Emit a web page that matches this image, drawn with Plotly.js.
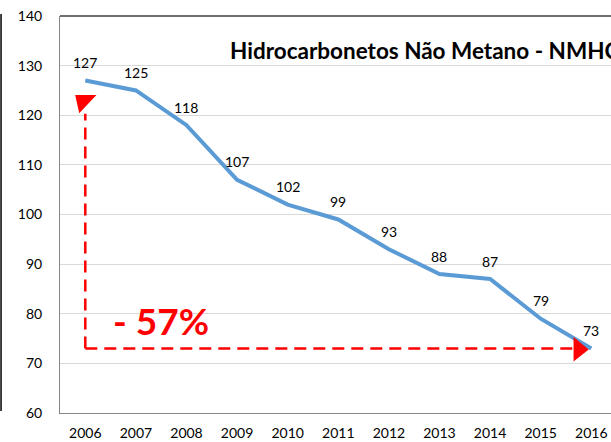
<!DOCTYPE html>
<html>
<head>
<meta charset="utf-8">
<script src="https://cdn.plot.ly/plotly-3.0.1.min.js"></script>
<style>
  html, body { margin: 0; padding: 0; background: #fff; }
  #chart { width: 611px; height: 442px; }
</style>
</head>
<body>
<div id="chart"></div>
<script>
var years = [2006, 2007, 2008, 2009, 2010, 2011, 2012, 2013, 2014, 2015, 2016];
var values = [127, 125, 118, 107, 102, 99, 93, 88, 87, 79, 73];
var yTicks = [60, 70, 80, 90, 100, 110, 120, 130, 140];

var CHART = document.getElementById("chart");
var font = "Lato, 'Open Sans', sans-serif";

var line = {
  x: years,
  y: values,
  type: "scatter",
  mode: "lines",
  line: { color: "#5B9BD5", width: 4 },
  hoverinfo: "skip",
};

// value labels sit above each point
var labels = years.map(function (yr, i) {
  return {
    x: yr, y: values[i],
    text: String(values[i]),
    showarrow: false,
    yanchor: "middle",
    yshift: 18,
    font: { family: font, size: 14, color: "#000" },
  };
});

var first = years[0];
var last = values[values.length - 1];
var red = "#FF0000";

var layout = {
  width: 611,
  height: 442,
  margin: { l: 60, r: 0, t: 16, b: 29 },
  paper_bgcolor: "#fff",
  plot_bgcolor: "#fff",
  showlegend: false,
  font: { family: font, size: 14, color: "#000" },
  xaxis: {
    type: "linear",
    range: [2005.5, 2016.39],
    tickvals: years,
    ticktext: years.map(String),
    showgrid: false,
    zeroline: false,
    showline: true,
    linecolor: "#868686",
    linewidth: 1,
    ticks: "",
    ticklabelstandoff: 7,
    tickfont: { family: font, size: 14 },
  },
  yaxis: {
    range: [60, 140],
    tickvals: yTicks,
    showgrid: true,
    gridcolor: "#D9D9D9",
    gridwidth: 1,
    zeroline: false,
    showline: true,
    linecolor: "#868686",
    linewidth: 1,
    ticks: "",
    ticklabelstandoff: 14,
    tickfont: { family: font, size: 14 },
  },
  shapes: [
    // top border of plot area
    { type: "line", xref: "paper", yref: "paper", x0: 0, x1: 1, y0: 1, y1: 1,
      line: { color: "#404040", width: 1.5 } },
    // left frame edge
    { type: "line", xref: "paper", yref: "paper", x0: -0.107, x1: -0.107, y0: 0.005, y1: 1.005,
      line: { color: "#000", width: 1.5 } },
    // dashed red arrows
    { type: "line", x0: first, x1: first, y0: last, y1: 120.3,
      line: { color: red, width: 2.5, dash: "12px,7px" } },
    { type: "line", x0: first, x1: 2015.65, y0: last, y1: last,
      line: { color: red, width: 2.5, dash: "12px,7px" } },
    { type: "path", path: "M 2005.8,124.1 L 2006.22,124.1 L 2005.88,120.4 Z",
      fillcolor: red, line: { color: red, width: 0 } },
    { type: "path", path: "M 2015.65,75.3 L 2015.65,70.4 L 2015.95,72.8 Z",
      fillcolor: red, line: { color: red, width: 0 } },
  ],
  annotations: labels.concat([
    {
      text: "<b>Hidrocarbonetos Não Metano - NMHC</b>",
      xref: "paper", yref: "paper",
      x: 0.305, y: 0.914, xanchor: "left", yanchor: "middle",
      showarrow: false,
      font: { family: font, size: 22.5, color: "#000" },
    },
    {
      text: "<b>- 57%</b>",
      xref: "paper", yref: "paper",
      x: 0.093, y: 0.234, xanchor: "left", yanchor: "middle",
      showarrow: false,
      font: { family: font, size: 37, color: red },
    },
  ]),
};

Plotly.newPlot(CHART, [line], layout, { displayModeBar: false, staticPlot: true });
</script>
</body>
</html>
